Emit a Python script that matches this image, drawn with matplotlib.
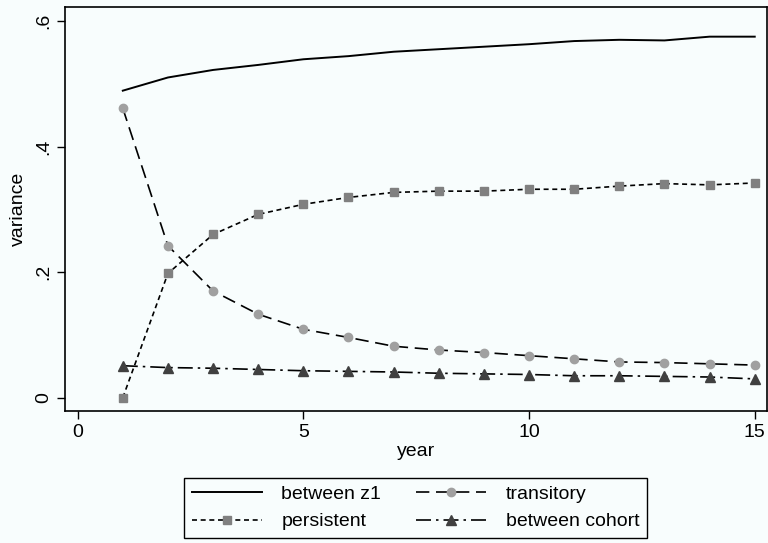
import numpy as np
import matplotlib
matplotlib.use("Agg")
import matplotlib.pyplot as plt

plt.rcParams["font.family"] = ["Liberation Sans", "DejaVu Sans"]
plt.rcParams["font.size"] = 14

# values
year = list(range(1, 16))
between_z1 = [0.489, 0.510, 0.522, 0.530, 0.539, 0.544, 0.551, 0.555, 0.559,
              0.563, 0.568, 0.570, 0.569, 0.575, 0.575]
transitory = [0.461, 0.242, 0.170, 0.133, 0.109, 0.096, 0.082, 0.076, 0.072,
              0.067, 0.062, 0.057, 0.056, 0.054, 0.052]
persistent = [0.000, 0.198, 0.260, 0.292, 0.308, 0.319, 0.327, 0.329, 0.329,
              0.332, 0.332, 0.337, 0.341, 0.339, 0.342]
between_cohort = [0.051, 0.048, 0.047, 0.045, 0.043, 0.042, 0.041, 0.039, 0.038,
                  0.037, 0.035, 0.035, 0.034, 0.033, 0.030]

bg = "#f8fdfd"
fig = plt.figure(figsize=(7.68, 5.43), dpi=100, facecolor=bg)
ax = fig.add_axes([0.0846, 0.243, 0.914, 0.7436], facecolor=bg)

l1, = ax.plot(year, between_z1, color="black", lw=1.4, label="between z1")
l2, = ax.plot(year, transitory, color="black", lw=1.2, dashes=(8, 4),
              marker="o", ms=6, mfc="#a0a0a0", mec="#a0a0a0", label="transitory")
l3, = ax.plot(year, persistent, color="black", lw=1.2, dashes=(3, 2.2),
              marker="s", ms=6, mfc="#808080", mec="#808080", label="persistent")
l4, = ax.plot(year, between_cohort, color="black", lw=1.2, dashes=(9, 3, 1.5, 3),
              marker="^", ms=7, mfc="#404040", mec="#404040", label="between cohort")

ax.set_xlim(-0.281, 15.27)
ax.set_ylim(-0.0212, 0.6218)
ax.set_xticks([0, 5, 10, 15])
ax.set_yticks([0, 0.2, 0.4, 0.6])
ax.set_yticklabels(["0", ".2", ".4", ".6"], rotation=90, va="center")
ax.tick_params(direction="out", length=6, width=1, pad=3)
for s in ax.spines.values():
    s.set_linewidth(1.2)
ax.set_xlabel("year", labelpad=2)
ax.set_ylabel("variance", labelpad=6)

fig.legend(handles=[l1, l3, l2, l4], ncol=2, loc="upper center",
           bbox_to_anchor=(415.5 / 768, 1 - 468 / 543), frameon=True,
           fancybox=False, edgecolor="black", facecolor=bg, framealpha=1,
           handlelength=3.6, handletextpad=1.0, columnspacing=1.8,
           borderpad=0.4, labelspacing=0.5)

fig.savefig("out.png", dpi=100, facecolor=bg)
